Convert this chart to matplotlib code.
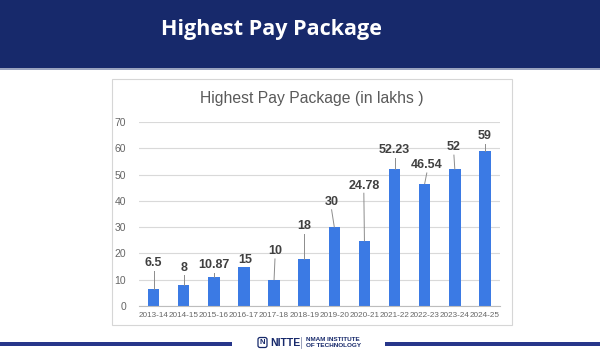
import matplotlib.pyplot as plt
from matplotlib.patches import Rectangle, FancyBboxPatch
from matplotlib.lines import Line2D

# Placement data
years = ["2013-14", "2014-15", "2015-16", "2016-17", "2017-18", "2018-19",
         "2019-20", "2020-21", "2021-22", "2022-23", "2023-24", "2024-25"]
package = [6.5, 8, 10.87, 15, 10, 18, 30, 24.78, 52.23, 46.54, 52, 59]
value_labels = ["6.5", "8", "10.87", "15", "10", "18", "30", "24.78",
                "52.23", "46.54", "52", "59"]

# Where each value label sits (x offset from bar, height in lakhs)
label_dx = [0, 0, 0, 0.03, 0.03, 0, -0.09, -0.02, 0, 0.07, -0.03, 0]
label_h = [16.3, 14.6, 15.6, 17.4, 20.8, 30.4, 39.5, 45.8, 59.3, 53.5, 60.3, 64.5]

W, H = 600, 350
NAVY = "#17296b"
BAR = "#3b7ae4"

fig = plt.figure(figsize=(6, 3.5), dpi=100, facecolor="white")


def px(x, y, w, h):
    """Pixel box (top-left origin) -> figure fraction rect."""
    return [x / W, 1 - (y + h) / H, w / W, h / H]


# Page decoration layer
bg = fig.add_axes([0, 0, 1, 1])
bg.set_xlim(0, W)
bg.set_ylim(H, 0)
bg.axis("off")

bg.add_patch(Rectangle((0, 0), W, 68, color=NAVY, lw=0))
bg.add_patch(Rectangle((0, 68), W, 1.5, color="#9aa3bf", lw=0))
bg.text(271, 30, "Highest Pay Package", color="white", fontsize=15.5,
        fontweight="bold", family="Open Sans", ha="center", va="center")

# chart card
bg.add_patch(Rectangle((112, 79), 400, 246, facecolor="white",
                       edgecolor="#d6d6d6", lw=0.8))
bg.text(312, 98, "Highest Pay Package (in lakhs )", color="#5a5a5a",
        fontsize=11.3, family="Liberation Sans", ha="center", va="center")

# footer bars and logo
bg.add_patch(Rectangle((0, 341.5), 232, 4, color="#27368a", lw=0))
bg.add_patch(Rectangle((385, 341.5), 215, 4, color="#27368a", lw=0))
bg.add_patch(FancyBboxPatch((258, 337.5), 9, 10, boxstyle="round,pad=0,rounding_size=2",
                            facecolor="white", edgecolor=NAVY, lw=0.9))
bg.text(262.5, 342.8, "N", color=NAVY, fontsize=5.5, fontweight="bold",
        ha="center", va="center", family="Liberation Sans")
bg.text(270, 342.5, "NITTE", color=NAVY, fontsize=7.5, fontweight="bold",
        ha="left", va="center", family="Liberation Sans")
bg.add_line(Line2D([301, 301], [337, 348], color="#8890b0", lw=0.6))
bg.text(306, 339.3, "NMAM INSTITUTE", color=NAVY, fontsize=4.6,
        fontweight="bold", ha="left", va="center", family="Liberation Sans")
bg.text(306, 345.3, "OF TECHNOLOGY", color=NAVY, fontsize=4.6,
        fontweight="bold", ha="left", va="center", family="Liberation Sans")

# Bar chart
ax = fig.add_axes(px(138.5, 122, 361.5, 184))
x = list(range(len(years)))
ax.bar(x, package, width=0.38, color=BAR, zorder=2)
ax.set_xlim(-0.5, len(years) - 0.5)
ax.set_ylim(0, 70)
ax.set_yticks(range(0, 71, 10))
ax.set_xticks(x)
ax.set_xticklabels(years)
ax.grid(axis="y", color="#d9d9d9", lw=0.8, zorder=0)
for s in ax.spines.values():
    s.set_visible(False)
ax.spines["bottom"].set_visible(True)
ax.spines["bottom"].set_color("#bdbdbd")
ax.spines["bottom"].set_linewidth(0.8)
ax.tick_params(length=0, colors="#666666")
ax.tick_params(axis="y", labelsize=7.5, pad=9)
ax.tick_params(axis="x", labelsize=5.9, pad=4)
for t in ax.get_xticklabels() + ax.get_yticklabels():
    t.set_family("Liberation Sans")
ax.patch.set_alpha(0)

for i, (v, lab) in enumerate(zip(package, value_labels)):
    lx, ly = i + label_dx[i], label_h[i]
    ax.text(lx, ly, lab, ha="center", va="center", fontsize=9,
            fontweight="bold", color="#404040", family="Liberation Sans", zorder=4)
    if ly - 2.9 > v:
        ax.plot([i, lx], [v, ly - 2.9], color="#8c8c8c", lw=0.7, zorder=3)

fig.savefig("out.png", dpi=100, facecolor="white")
